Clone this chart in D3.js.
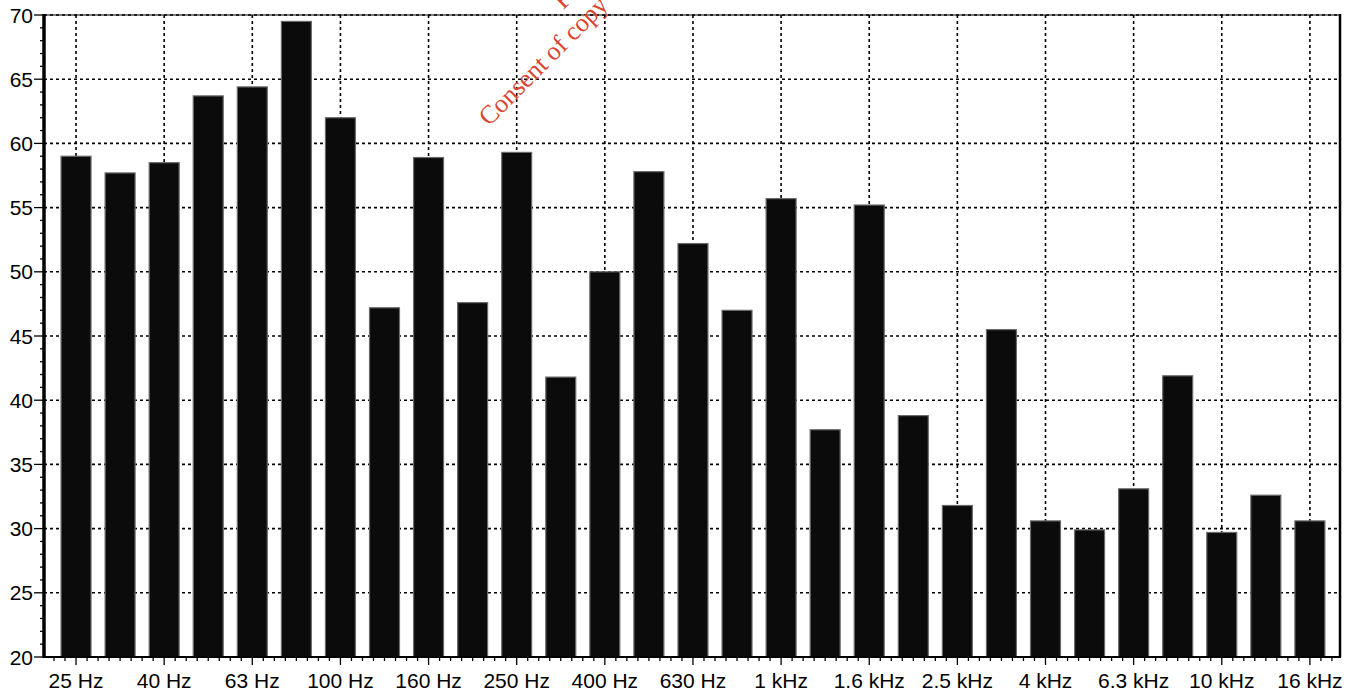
<!DOCTYPE html>
<html>
<head>
<meta charset="utf-8">
<script src="https://cdn.jsdelivr.net/npm/d3@7"></script>
<style>
  html, body { margin: 0; padding: 0; background: #fff; }
  svg { display: block; }
</style>
</head>
<body>
<svg id="chart" width="1356" height="693"></svg>
<script>
// One-third octave bands, 25 Hz to 16 kHz
const bands = ["25", "31.5", "40", "50", "63", "80", "100", "125", "160", "200", "250", "315",
  "400", "500", "630", "800", "1k", "1.25k", "1.6k", "2k", "2.5k", "3.15k", "4k", "5k",
  "6.3k", "8k", "10k", "12.5k", "16k"];

// Band levels, dB
const levels = [59.0, 57.7, 58.5, 63.7, 64.4, 69.5, 62.0, 47.2, 58.9, 47.6, 59.3, 41.8,
  50.0, 57.8, 52.2, 47.0, 55.7, 37.7, 55.2, 38.8, 31.8, 45.5, 30.6, 29.9,
  33.1, 41.9, 29.7, 32.6, 30.6];

// Labels shown under every second band
const tickLabels = ["25 Hz", "40 Hz", "63 Hz", "100 Hz", "160 Hz", "250 Hz", "400 Hz", "630 Hz",
  "1 kHz", "1.6 kHz", "2.5 kHz", "4 kHz", "6.3 kHz", "10 kHz", "16 kHz"];

const yTicks = [20, 25, 30, 35, 40, 45, 50, 55, 60, 65, 70];

const svg = d3.select("#chart");
const plotLeft = 44, plotRight = 1340, plotTop = 15, plotBottom = 657;

const x = d3.scaleBand().domain(bands).range([plotLeft, plotRight])
  .paddingInner(0.32).paddingOuter(0.365).align(0.53);
const y = d3.scaleLinear().domain([20, 70]).range([plotBottom, plotTop]);

const labelled = bands.filter((d, i) => i % 2 === 0);
const cx = d => x(d) + x.bandwidth() / 2;

// Dotted grid
const grid = svg.append("g").attr("stroke", "#000").attr("stroke-width", 1.6)
  .attr("stroke-dasharray", "3,3");
grid.selectAll("line.h").data(yTicks.filter(v => v > 20)).join("line")
  .attr("class", "h")
  .attr("x1", plotLeft).attr("x2", plotRight)
  .attr("y1", d => y(d)).attr("y2", d => y(d));
grid.selectAll("line.v").data(labelled).join("line")
  .attr("class", "v")
  .attr("x1", cx).attr("x2", cx)
  .attr("y1", plotTop).attr("y2", plotBottom);

// Bars
svg.append("g").selectAll("rect").data(levels).join("rect")
  .attr("x", (d, i) => x(bands[i]))
  .attr("width", x.bandwidth())
  .attr("y", d => y(d))
  .attr("height", d => y(20) - y(d))
  .attr("fill", "#0b0b0b")
  .attr("stroke", "#6a6a6a")
  .attr("stroke-width", 1.2);

// Frame
svg.append("line").attr("x1", plotLeft).attr("x2", plotRight).attr("y1", plotTop).attr("y2", plotTop)
  .attr("stroke", "#000").attr("stroke-width", 1.2);
svg.append("line").attr("x1", plotRight).attr("x2", plotRight).attr("y1", plotTop - 1).attr("y2", plotBottom)
  .attr("stroke", "#000").attr("stroke-width", 2.5);
svg.append("line").attr("x1", plotLeft).attr("x2", plotRight + 1).attr("y1", plotBottom).attr("y2", plotBottom)
  .attr("stroke", "#000").attr("stroke-width", 2);
svg.append("line").attr("x1", plotLeft).attr("x2", plotLeft).attr("y1", plotTop - 1).attr("y2", plotBottom + 1)
  .attr("stroke", "#000").attr("stroke-width", 3.5);

// Y axis ticks and labels
const yMinor = d3.range(20, 71, 1);
svg.append("g").selectAll("line").data(yMinor).join("line")
  .attr("x1", d => d % 5 === 0 ? plotLeft - 10 : plotLeft - 4).attr("x2", plotLeft)
  .attr("y1", d => y(d)).attr("y2", d => y(d))
  .attr("stroke", "#000").attr("stroke-width", 1.3);
svg.append("g").selectAll("text").data(yTicks).join("text")
  .attr("x", plotLeft - 11).attr("y", d => y(d))
  .attr("dy", "0.36em")
  .attr("text-anchor", "end")
  .attr("font-family", "Liberation Sans, Arial, sans-serif")
  .attr("font-size", 21)
  .attr("fill", "#000")
  .text(d => d);

// X axis ticks: quarter-band minor ticks, longer ticks at labelled bands
const q = x.step() / 4;
const c0 = cx(bands[0]);
const xMinor = d3.range(Math.ceil((plotLeft - c0) / q), Math.floor((plotRight - c0) / q) + 1)
  .map(k => ({ k, pos: c0 + k * q }));
svg.append("g").selectAll("line").data(xMinor).join("line")
  .attr("x1", d => d.pos).attr("x2", d => d.pos)
  .attr("y1", plotBottom)
  .attr("y2", d => (d.k >= 0 && d.k % 8 === 0) ? plotBottom + 8 : plotBottom + 4)
  .attr("stroke", "#000").attr("stroke-width", 1.3);
svg.append("g").selectAll("text").data(labelled).join("text")
  .attr("x", cx).attr("y", 688)
  .attr("text-anchor", "middle")
  .attr("font-family", "Liberation Sans, Arial, sans-serif")
  .attr("font-size", 21)
  .attr("fill", "#000")
  .text((d, i) => tickLabels[i]);

// Red document stamp across the top (only its lower-left part falls on the page)
const stamp = svg.append("g")
  .attr("transform", "translate(489,127) rotate(-45)")
  .attr("font-family", "Liberation Serif, Times New Roman, serif")
  .attr("font-size", 26)
  .attr("fill", "#d9452f");
stamp.append("text").attr("x", 135).attr("y", -30).text("F");
stamp.append("text").attr("x", 0).attr("y", 0).text("Consent of copy");
</script>
</body>
</html>
